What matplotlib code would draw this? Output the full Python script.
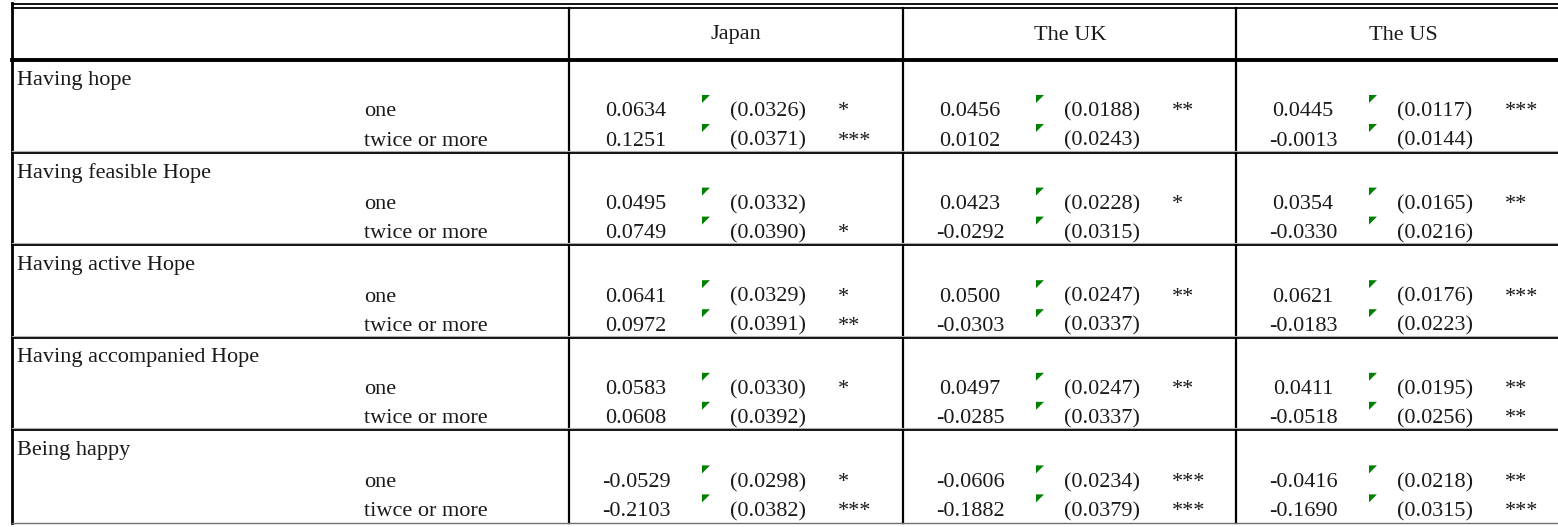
import matplotlib
matplotlib.use('Agg')
import matplotlib.pyplot as plt
from matplotlib.patches import Polygon

# table content
countries = ['Japan', 'The UK', 'The US']
groups = ['Having hope', 'Having feasible Hope', 'Having active Hope',
          'Having accompanied Hope', 'Being happy']
sublabels = [['one', 'twice or more'], ['one', 'twice or more'], ['one', 'twice or more'],
             ['one', 'twice or more'], ['one', 'tiwce or more']]

# coefficients: [group][sub][country]
coef = [
    [['0.0634', '0.0456', '0.0445'], ['0.1251', '0.0102', '-0.0013']],
    [['0.0495', '0.0423', '0.0354'], ['0.0749', '-0.0292', '-0.0330']],
    [['0.0641', '0.0500', '0.0621'], ['0.0972', '-0.0303', '-0.0183']],
    [['0.0583', '0.0497', '0.0411'], ['0.0608', '-0.0285', '-0.0518']],
    [['-0.0529', '-0.0606', '-0.0416'], ['-0.2103', '-0.1882', '-0.1690']],
]
se = [
    [['(0.0326)', '(0.0188)', '(0.0117)'], ['(0.0371)', '(0.0243)', '(0.0144)']],
    [['(0.0332)', '(0.0228)', '(0.0165)'], ['(0.0390)', '(0.0315)', '(0.0216)']],
    [['(0.0329)', '(0.0247)', '(0.0176)'], ['(0.0391)', '(0.0337)', '(0.0223)']],
    [['(0.0330)', '(0.0247)', '(0.0195)'], ['(0.0392)', '(0.0337)', '(0.0256)']],
    [['(0.0298)', '(0.0234)', '(0.0218)'], ['(0.0382)', '(0.0379)', '(0.0315)']],
]
stars = [
    [['*', '**', '***'], ['***', '', '']],
    [['', '*', '**'], ['*', '', '']],
    [['*', '**', '***'], ['**', '', '']],
    [['*', '**', '**'], ['', '', '**']],
    [['*', '***', '**'], ['***', '***', '***']],
]

W, H = 1558, 527
fig = plt.figure(figsize=(W / 100, H / 100), dpi=100)
ax = fig.add_axes([0, 0, 1, 1])
ax.set_xlim(0, W)
ax.set_ylim(H, 0)
ax.axis('off')

font = dict(family='Liberation Serif', fontsize=16, color='#1a1a1a')

# layout (pixels)
left = 12
col_x = [569, 903, 1236]
header_bottom = 60
group_h = 92.6
bottom = header_bottom + group_h * len(groups)

# borders
ax.plot([left, W], [3.5, 3.5], color='black', lw=1.3)
ax.plot([left, W], [7.5, 7.5], color='black', lw=1.3)
ax.plot([left, W], [header_bottom, header_bottom], color='black', lw=2.8)
ax.plot([left, left], [3, bottom], color='black', lw=2.0)
for x in col_x:
    ax.plot([x, x], [7.5, bottom], color='black', lw=1.6)
for i in range(1, len(groups)):
    y = header_bottom + group_h * i
    ax.plot([left, W], [y - 2, y - 2], color='#b0b0b0', lw=0.8)
    ax.plot([left, W], [y, y], color='black', lw=1.3)
ax.plot([left, W], [bottom, bottom], color='#707070', lw=1.0)

# header
for c, name in enumerate(countries):
    ax.text(col_x[c] + 167, 35, name, ha='center', va='center', **font)

# body
for g, gname in enumerate(groups):
    top = header_bottom + group_h * g
    ax.text(17, top + 20, gname, ha='left', va='center', **font)
    for s in range(2):
        y = top + 52 + 29 * s
        ax.text(364, y, sublabels[g][s], ha='left', va='center', **font)
        for c in range(3):
            x0 = col_x[c]
            ax.text(x0 + 67, y, coef[g][s][c], ha='center', va='center', **font)
            ax.text(x0 + 199, y, se[g][s][c], ha='center', va='center', **font)
            ax.text(x0 + 269, y, stars[g][s][c], ha='left', va='center', **font)
            tx, ty = x0 + 133, y - 17
            ax.add_patch(Polygon([[tx, ty], [tx + 8, ty], [tx, ty + 8]],
                                 closed=True, color='#008000', lw=0))

fig.savefig('out.png', dpi=100)
